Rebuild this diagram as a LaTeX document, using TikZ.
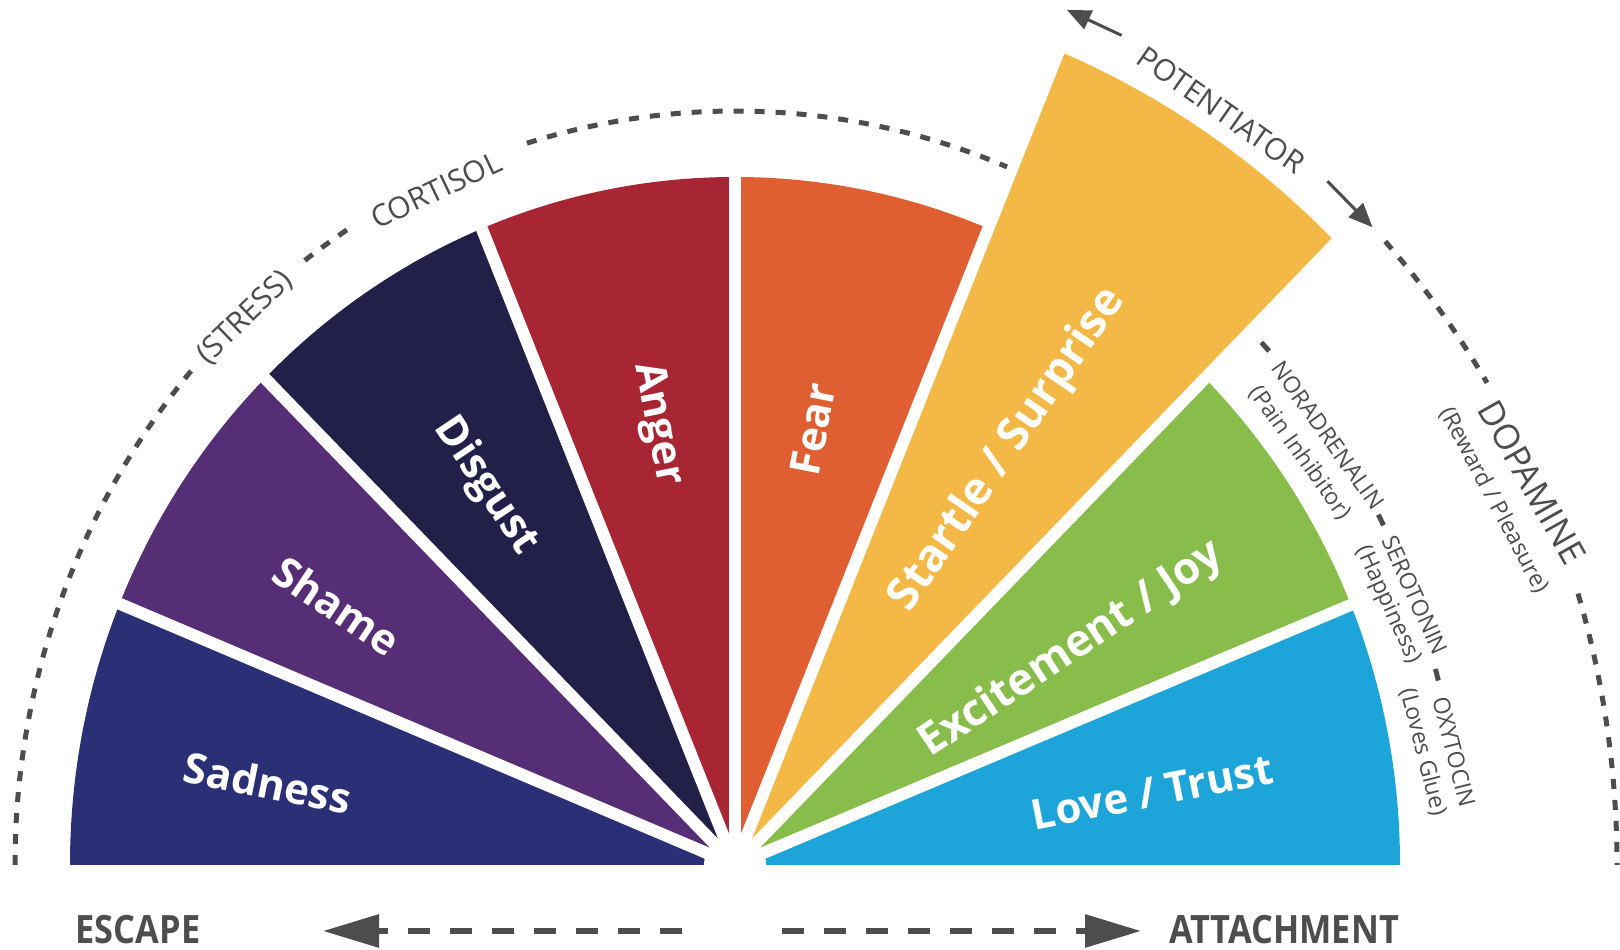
\documentclass[tikz,border=0pt]{standalone}
\usepackage{fontspec}
\setmainfont{Open Sans}
\newfontfamily\condfont[FakeStretch=0.88]{Open Sans}
\usetikzlibrary{arrows.meta}
\definecolor{cSad}{HTML}{2B2F75}
\definecolor{cSha}{HTML}{562E75}
\definecolor{cDis}{HTML}{222049}
\definecolor{cAng}{HTML}{A82533}
\definecolor{cFea}{HTML}{DF5E32}
\definecolor{cSta}{HTML}{F3B845}
\definecolor{cExc}{HTML}{88BD4B}
\definecolor{cLov}{HTML}{1DA5D9}
\definecolor{gray4}{HTML}{4D4D4D}
\begin{document}
\begin{tikzpicture}[x=1pt,y=1pt,
  band/.style={white, line width=12pt},
  wlabel/.style={text=white, font=\fontsize{42}{42}\selectfont\bfseries, inner sep=0pt},
  alabel/.style={text=gray4, font=\fontsize{30}{30}\selectfont, inner sep=0pt},
  slabel/.style={text=gray4, font=\fontsize{23}{23}\selectfont, inner sep=0pt},
  dlabel/.style={text=gray4, font=\fontsize{35}{35}\selectfont, inner sep=0pt},
  blabel/.style={text=gray4, font=\condfont\bfseries\fontsize{39}{39}\selectfont, inner sep=0pt},
  dasharc/.style={draw=gray4, line width=5pt, dash pattern=on 10pt off 11pt},
  tick/.style={draw=gray4, line width=5pt},
  botarrow/.style={draw=gray4, line width=6pt, dash pattern=on 22pt off 20pt, -{Triangle[length=56pt,width=32pt]}},
  potarrow/.style={draw=gray4, line width=3pt, -{Triangle[length=24pt,width=20pt]}}
]
\fill[white] (0,0) rectangle (1620,950);
\useasboundingbox (0,0) rectangle (1620,950);

\begin{scope}[shift={(735,85)}]
  % wedges
  \begin{scope}
    \clip (0,0) ellipse [x radius=665, y radius=688];
    \fill[cSad] (0,0) -- (180:1000) -- (157:1000) -- cycle;
    \fill[cSha] (0,0) -- (157:1000) -- (134:1000) -- cycle;
    \fill[cDis] (0,0) -- (134:1000) -- (111.7:1000) -- cycle;
    \fill[cAng] (0,0) -- (111.7:1000) -- (90:1000) -- cycle;
    \fill[cFea] (0,0) -- (90:1000) -- (68.3:1000) -- cycle;
    \fill[cExc] (0,0) -- (46:1000) -- (22.9:1000) -- cycle;
    \fill[cLov] (0,0) -- (22.9:1000) -- (0:1000) -- cycle;
  \end{scope}
  \begin{scope}
    \clip (0,0) ellipse [x radius=850, y radius=880];
    \fill[cSta] (0,0) -- (68.3:1000) -- (46:1000) -- cycle;
  \end{scope}
  % separators
  \foreach \a in {157,134,111.7,90,22.9} \draw[band] (0,0) -- (\a:700);
  \foreach \a in {68.3,46} \draw[band] (0,0) -- (\a:900);
  \fill[white] (0,0) circle (31);

  % left dashed arc (cortisol)
  \draw[dasharc] ({720*cos(180)},{754*sin(180)}) arc[start angle=180, end angle=138.5, x radius=720, y radius=754];
  \draw[dasharc] ({720*cos(126.7)},{754*sin(126.7)}) arc[start angle=126.7, end angle=122.4, x radius=720, y radius=754];
  \draw[dasharc] ({720*cos(106.8)},{754*sin(106.8)}) arc[start angle=106.8, end angle=67.8, x radius=720, y radius=754];

  % right outer dashed arc (dopamine)
  \draw[dasharc] ({882*cos(42.5)},{923*sin(42.5)}) arc[start angle=42.5, end angle=31.5, x radius=882, y radius=923];
  \draw[dasharc] ({882*cos(17.1)},{923*sin(17.1)}) arc[start angle=17.1, end angle=0, x radius=882, y radius=923];

  % inner right ticks
  \foreach \t in {43,27,14.5}
    \draw[tick] ({725*cos(\t+0.45)},{760*sin(\t+0.45)}) arc[start angle=\t+0.45, end angle=\t-0.45, x radius=725, y radius=760];
\end{scope}

% potentiator arrows
\coordinate (potLa) at (1121.6,914.6);
\coordinate (potLb) at (1066.8,940.2);
\coordinate (potRa) at (1327.4,768.8);
\coordinate (potRb) at (1372.5,722.8);
\draw[potarrow] (potLa) -- (potLb);
\draw[potarrow] (potRa) -- (potRb);

% wedge labels
\node[wlabel, rotate=-11.25] (lSad) at (268,167) {Sadness};
\node[wlabel, rotate=-33.75] (lSha) at (337,344) {Shame};
\node[wlabel, rotate=-56.25] (lDis) at (486,464) {Disgust};
\node[wlabel, rotate=-78.75] (lAng) at (657,526) {Anger};
\node[wlabel, rotate=78.75] (lFea) at (813,521) {Fear};
\node[wlabel, rotate=55.5, font=\fontsize{45}{45}\selectfont\bfseries] (lSta) at (1008,500) {Startle / Surprise};
\node[wlabel, rotate=33.75, font=\fontsize{44}{44}\selectfont\bfseries] (lExc) at (1072,300) {Excitement / Joy};
\node[wlabel, rotate=11.25] (lLov) at (1152,158) {Love / Trust};

% arc labels
\node[alabel, rotate=44] (tStress) at (245,632) {(STRESS)};
\node[alabel, rotate=25.5] (tCort) at (436,760) {CORTISOL};
\node[alabel, rotate=-35] (tPot) at (1221,840) {POTENTIATOR};
\node[slabel, rotate=-54.5] (tNor) at (1328,515) {NORADRENALIN};
\node[slabel, rotate=-54.5] (tNorS) at (1300,497) {(Pain Inhibitor)};
\node[slabel, rotate=-65.6] (tSer) at (1415,355) {SEROTONIN};
\node[slabel, rotate=-65.6] (tSerS) at (1388,345) {(Happiness)};
\node[slabel, rotate=-75.7] (tOxy) at (1454,198) {OXYTOCIN};
\node[slabel, rotate=-75.7] (tOxyS) at (1423,198) {(Loves Glue)};
\node[dlabel, rotate=-60.6] (tDop) at (1532,468) {DOPAMINE};
\node[slabel, rotate=-62] (tDopS) at (1494,450) {(Reward / Pleasure)};

% bottom
\node[blabel] (escape) at (138,20) {ESCAPE};
\node[blabel] (attach) at (1284,20) {ATTACHMENT};
\coordinate (escA) at (682,19);
\coordinate (escB) at (323,19);
\coordinate (attA) at (782,19);
\coordinate (attB) at (1141,19);
\draw[botarrow] (escA) -- (escB);
\draw[botarrow] (attA) -- (attB);
\end{tikzpicture}
\end{document}
